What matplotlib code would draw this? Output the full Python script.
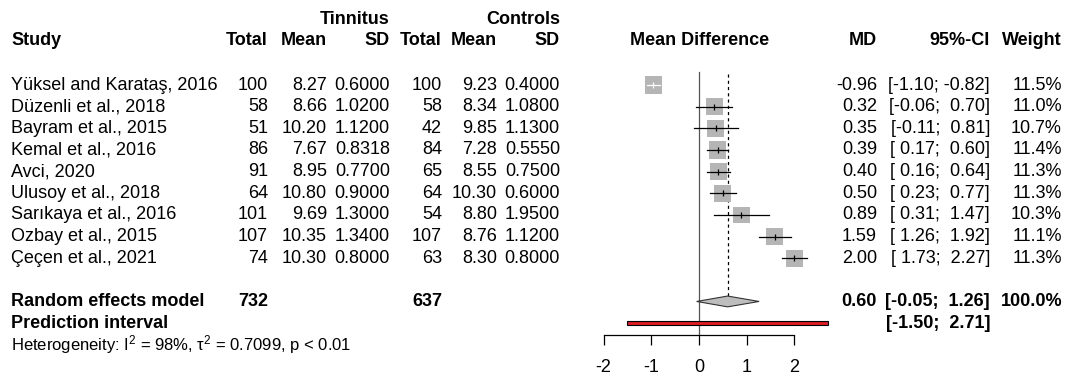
import matplotlib
matplotlib.use('Agg')
import matplotlib.pyplot as plt
from matplotlib.patches import Polygon

plt.rcParams['font.family'] = ['Liberation Sans', 'DejaVu Sans']
plt.rcParams['font.size'] = 13
plt.rcParams['mathtext.fontset'] = 'custom'
plt.rcParams['mathtext.rm'] = 'Liberation Sans'
plt.rcParams['mathtext.it'] = 'Liberation Sans'

studies = ['Yüksel and Karataş, 2016', 'Düzenli et al., 2018', 'Bayram et al., 2015',
           'Kemal et al., 2016', 'Avci, 2020', 'Ulusoy et al., 2018',
           'Sarıkaya et al., 2016', 'Ozbay et al., 2015', 'Çeçen et al., 2021']
n_t = [100, 58, 51, 86, 91, 64, 101, 107, 74]
mean_t = [8.27, 8.66, 10.20, 7.67, 8.95, 10.80, 9.69, 10.35, 10.30]
sd_t = [0.6000, 1.0200, 1.1200, 0.8318, 0.7700, 0.9000, 1.3000, 1.3400, 0.8000]
n_c = [100, 58, 42, 84, 65, 64, 54, 107, 63]
mean_c = [9.23, 8.34, 9.85, 7.28, 8.55, 10.30, 8.80, 8.76, 8.30]
sd_c = [0.4000, 1.0800, 1.1300, 0.5550, 0.7500, 0.6000, 1.9500, 1.1200, 0.8000]
md = [-0.96, 0.32, 0.35, 0.39, 0.40, 0.50, 0.89, 1.59, 2.00]
ci_lo = [-1.10, -0.06, -0.11, 0.17, 0.16, 0.23, 0.31, 1.26, 1.73]
ci_hi = [-0.82, 0.70, 0.81, 0.60, 0.64, 0.77, 1.47, 1.92, 2.27]
weight = [11.5, 11.0, 10.7, 11.4, 11.3, 11.3, 10.3, 11.1, 11.3]

total_t, total_c = 732, 637
re_md, re_lo, re_hi = 0.60, -0.05, 1.26
pi_lo, pi_hi = -1.50, 2.71
het_text = 'Heterogeneity: I$^2$ = 98%, τ$^2$ = 0.7099, p < 0.01'
xticks = [-2, -1, 0, 1, 2]

W, H = 1069, 378
fig = plt.figure(figsize=(W / 100, H / 100), dpi=100)
# forest axes: full width, bottom edge = x axis line
ax = fig.add_axes([0, (H - 335) / H, 1, 335 / H])
x0_px, unit_px = 699, 47.7
ax.set_xlim(-x0_px / unit_px, (W - x0_px) / unit_px)
ax.set_ylim(11.55, -3.93)
for s in ['top', 'left', 'right']:
    ax.spines[s].set_visible(False)
ax.spines['bottom'].set_bounds(-2, 2)
ax.spines['bottom'].set_linewidth(0.9)
ax.set_xticks(xticks)
ax.set_xticklabels([str(t) for t in xticks])
ax.tick_params(axis='x', length=7, width=0.9, pad=10, labelsize=13)
ax.set_yticks([])
ax.patch.set_alpha(0)

rows = list(range(len(studies)))

# reference lines
ax.plot([0, 0], [-0.6, 11.55], color='#555555', lw=0.9, clip_on=False)
ax.plot([re_md, re_md], [-0.5, 9.75], color='black', lw=0.9, ls=(0, (2.5, 2.5)))

# squares
sizes = [w / 11.3 * 150 for w in weight]
ax.scatter(md, rows, s=sizes, marker='s', color='#b5b5b5', edgecolors='none', zorder=3)
# CI lines: white if inside the box
for r, m, lo, hi, sz in zip(rows, md, ci_lo, ci_hi, sizes):
    half = (sz ** 0.5) / 72 * 100 / 2 / unit_px
    col = 'white' if (lo > m - half and hi < m + half) else 'black'
    ax.plot([lo, hi], [r, r], color=col, lw=0.9, zorder=4)
    ax.scatter([m], [r], marker='|', s=22, color=col, linewidths=0.9, zorder=5)

# summary diamond
ax.add_patch(Polygon([[re_lo, 10], [re_md, 9.75], [re_hi, 10], [re_md, 10.25]],
                     closed=True, facecolor='#bdbdbd', edgecolor='#333333', lw=0.8, zorder=3))
# prediction interval
ax.barh(11, pi_hi - pi_lo, left=pi_lo, height=0.2, color='#dd1c24',
        edgecolor='black', linewidth=0.8, zorder=3)

tr = ax.get_yaxis_transform()


def put(xpx, row, s, ha='right', bold=False, size=13):
    ax.text(xpx / W, row, s, transform=tr, ha=ha, va='center', fontsize=size,
            fontweight='bold' if bold else 'normal', clip_on=False)


# column right edges (pixels)
c_nt, c_mt, c_st, c_nc, c_mc, c_sc = 268, 327, 390, 442, 497, 560
c_md, c_ci, c_w = 877, 990, 1062

# headers
put(c_st, -3.05, 'Tinnitus', bold=True)
put(c_sc, -3.05, 'Controls', bold=True)
put(11, -2.05, 'Study', ha='left', bold=True)
for xpx, lab in [(c_nt, 'Total'), (c_mt, 'Mean'), (c_st, 'SD'), (c_nc, 'Total'),
                 (c_mc, 'Mean'), (c_sc, 'SD'), (c_md, 'MD'), (c_ci, '95%-CI'), (c_w, 'Weight')]:
    put(xpx, -2.05, lab, bold=True)
put(700, -2.05, 'Mean Difference', ha='center', bold=True)

# study rows
for r in rows:
    put(11, r, studies[r], ha='left')
    put(c_nt, r, f'{n_t[r]}')
    put(c_mt, r, f'{mean_t[r]:.2f}')
    put(c_st, r, f'{sd_t[r]:.4f}')
    put(c_nc, r, f'{n_c[r]}')
    put(c_mc, r, f'{mean_c[r]:.2f}')
    put(c_sc, r, f'{sd_c[r]:.4f}')
    put(c_md, r, f'{md[r]:.2f}')
    put(c_ci, r, f'[{ci_lo[r]:5.2f}; {ci_hi[r]:5.2f}]')
    put(c_w, r, f'{weight[r]:.1f}%')

# summary rows
put(11, 10, 'Random effects model', ha='left', bold=True)
put(c_nt, 10, f'{total_t}', bold=True)
put(c_nc, 10, f'{total_c}', bold=True)
put(c_md, 10, f'{re_md:.2f}', bold=True)
put(c_ci, 10, f'[{re_lo:5.2f}; {re_hi:5.2f}]', bold=True)
put(c_w, 10, '100.0%', bold=True)
put(11, 11, 'Prediction interval', ha='left', bold=True)
put(c_ci, 11, f'[{pi_lo:5.2f}; {pi_hi:5.2f}]', bold=True)
put(11, 12, het_text, ha='left', size=12)

fig.savefig('out.png', dpi=100)
